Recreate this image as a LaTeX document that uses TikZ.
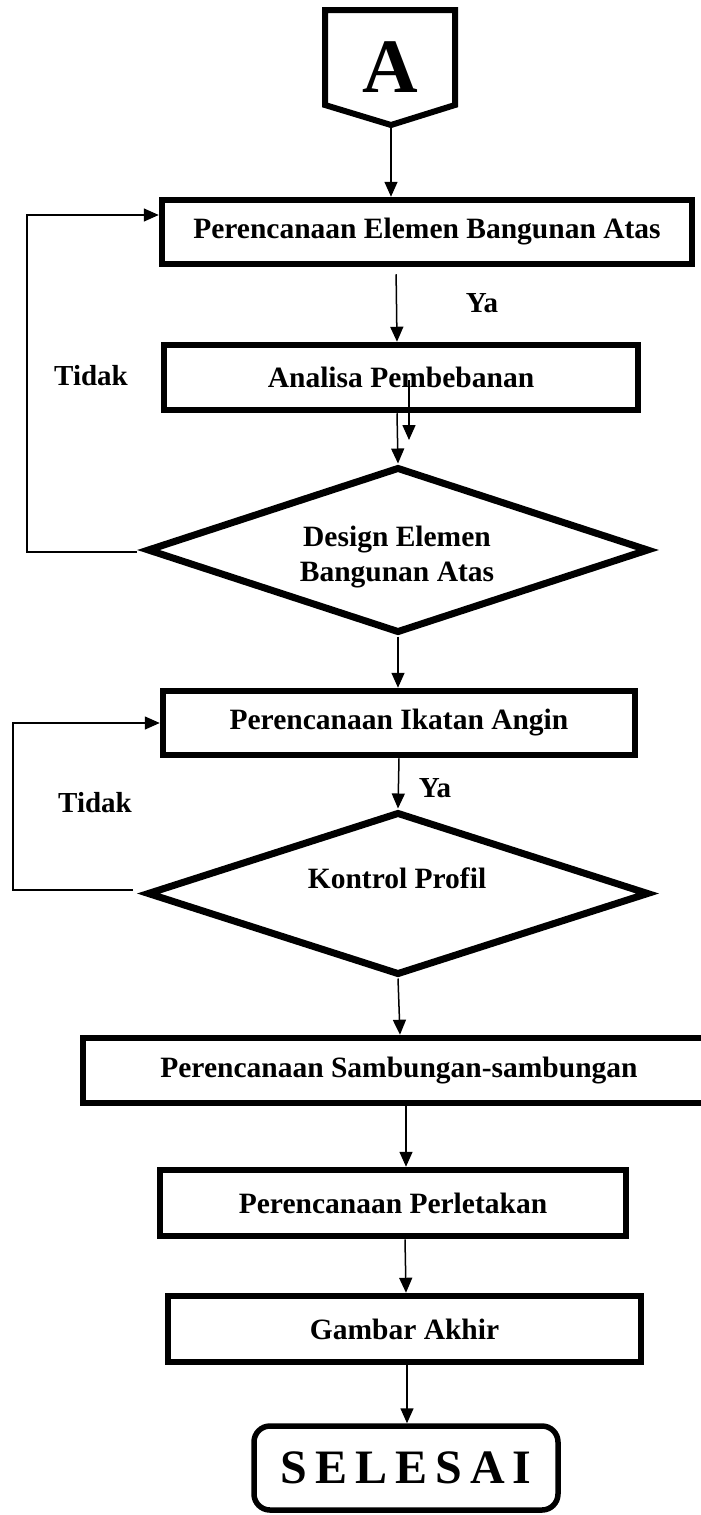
\documentclass[tikz,border=0pt]{standalone}
\usepackage{fontspec}
\setmainfont{Liberation Serif}
\usetikzlibrary{shapes.geometric,arrows.meta}
\begin{document}
\begin{tikzpicture}[x=1pt,y=-1pt,
  box/.style={draw, line width=6.5pt, rectangle, inner sep=0pt, font=\fontsize{29.5}{34}\selectfont\bfseries},
  dia/.style={draw, diamond, aspect=3, line width=7pt, inner sep=0pt},
  dtext/.style={inner sep=0pt, align=center, font=\fontsize{29.5}{35}\selectfont\bfseries},
  arr/.style={line width=1.5pt, -{Triangle[length=15pt,width=13pt]}},
  lbl/.style={font=\fontsize{29}{34}\selectfont\bfseries, inner sep=0pt}]
\useasboundingbox (0,0) rectangle (701,1515);

% start connector (pentagon)
\draw[line width=6pt, line join=miter] (325,10) -- (455,10) -- (455,105) -- (391,125) -- (325,105) -- cycle;
\node[font=\fontsize{77}{80}\selectfont\bfseries, inner sep=0pt] (A) at (390,67) {A};
\coordinate (ptip) at (391,128);

\node[box, minimum width=530pt, minimum height=64pt] (b1) at (427,232) {Perencanaan Elemen Bangunan Atas};
\node[box, minimum width=474pt, minimum height=65pt] (b2) at (401,377.5) {Analisa Pembebanan};
\node[dia, minimum width=502pt, minimum height=166pt] (d1) at (398,550) {};
\node[dtext] (d1t) at (397,557) {Design Elemen\\Bangunan Atas};
\node[box, minimum width=472pt, minimum height=64pt] (b3) at (399,723) {Perencanaan Ikatan Angin};
\node[dia, minimum width=502pt, minimum height=163pt] (d2) at (398,893.5) {};
\node[dtext] (d2t) at (397,878) {Kontrol Profil};
\node[box, minimum width=632pt, minimum height=65pt] (b4) at (399,1070.5) {Perencanaan Sambungan-sambungan};
\node[box, minimum width=466pt, minimum height=66pt] (b5) at (393,1203) {Perencanaan Perletakan};
\node[box, minimum width=473pt, minimum height=66pt] (b6) at (404.5,1329) {Gambar Akhir};
\node[draw, rounded corners=16pt, line width=5.5pt, inner sep=0pt, minimum width=304pt, minimum height=84pt, font=\fontsize{48}{52}\selectfont\bfseries] (end) at (406,1468) {\spaceskip=8pt S E L E S A I};

% labels
\node[lbl] (ya1) at (482,303) {Ya};
\node[lbl] (tidak1) at (91,376) {Tidak};
\node[lbl] (tidak2) at (95,803) {Tidak};
\node[lbl] (ya2) at (435,788) {Ya};

% connectors
\draw[arr] (ptip) -- (ptip |- b1.north);
\draw[arr, shorten <=7pt] ([xshift=-31pt]b1.south) -- ([xshift=-4pt]b2.north);
\draw[arr] ([xshift=-4pt]b2.south) -- (d1.north);
\coordinate (s1) at (409,380);
\coordinate (s2) at (409,440);
\draw[arr] (s1) -- (s2);
\draw[arr] (d1.south) -- ([xshift=-1pt]b3.north);
\draw[arr] (b3.south) -- (d2.north);
\draw[arr] (d2.south) -- ([xshift=1pt]b4.north);
\draw[arr] ([xshift=7pt]b4.south) -- ([xshift=13pt]b5.north);
\draw[arr] ([xshift=12pt]b5.south) -- ([xshift=1.5pt]b6.north);
\draw[arr] ([xshift=2.5pt]b6.south) -- ([xshift=1pt]end.north);

% feedback loops
\coordinate (t1) at (137,552);
\coordinate (c1) at (27,552);
\draw[arr] (t1) -- (c1) |- ([yshift=17pt]b1.west);
\coordinate (t2) at (133,890);
\coordinate (c2) at (13,890);
\draw[arr] (t2) -- (c2) |- (b3.west);
\end{tikzpicture}
\end{document}
